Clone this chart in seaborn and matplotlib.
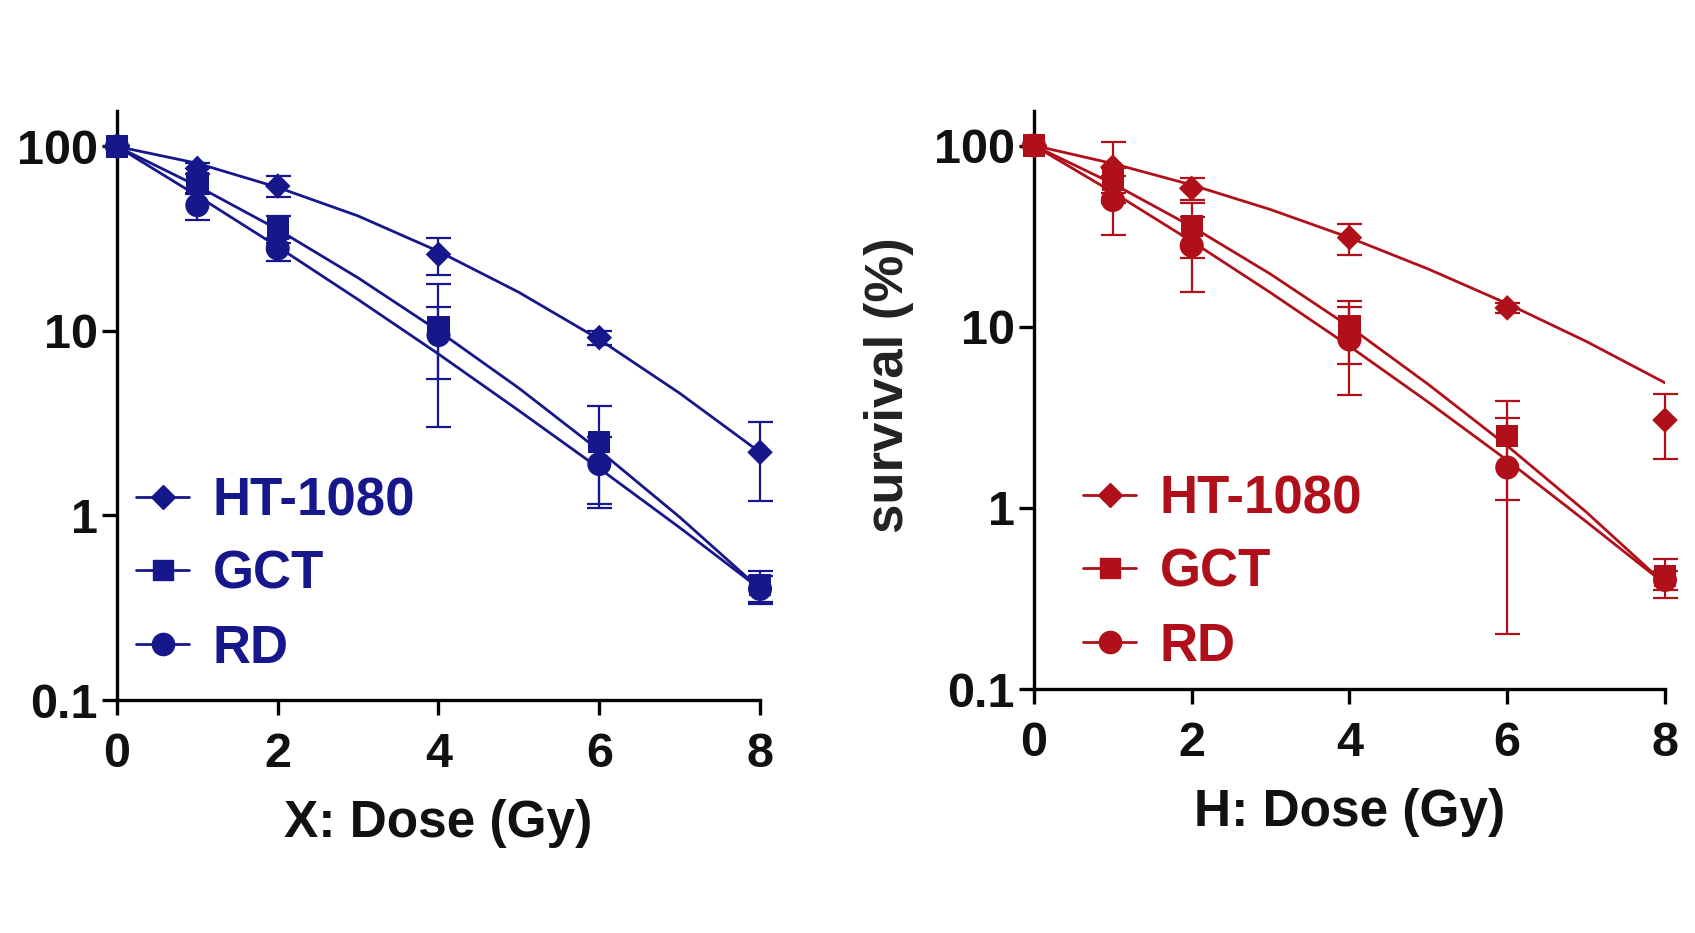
import numpy as np
import pandas as pd
import matplotlib
matplotlib.use("Agg")
import matplotlib.pyplot as plt
from matplotlib.lines import Line2D
import seaborn as sns

sns.set_theme(style="ticks")
plt.rcParams['font.family'] = ['Liberation Sans', 'DejaVu Sans']
plt.rcParams['font.weight'] = 'bold'

# ---------------- data ----------------
cell_lines = ["HT-1080", "GCT", "RD"]
doses = [0, 1, 2, 4, 6, 8]
curve_doses = [0, 1, 2, 3, 4, 5, 6, 7, 8]

# X-ray panel (left, blue)
x_ht_mean = [100, 76, 61, 26, 9.2, 2.2]
x_ht_sd = [0, 5, 8, 6, 0.8, 1.0]
x_gct_mean = [100, 63, 36, 10.5, 2.5, 0.42]
x_gct_sd = [0, 8, 6, 7.5, 1.4, 0.08]
x_rd_mean = [100, 48, 28, 9.5, 1.9, 0.40]
x_rd_sd = [0, 8, 4, 4, 0.75, 0.07]
# fitted curves
x_ht_fit = [100, 81, 60, 42, 27, 16.2, 9.0, 4.6, 2.2]
x_gct_fit = [100, 61, 35.5, 19.4, 10, 4.9, 2.25, 0.98, 0.40]
x_rd_fit = [100, 54, 28.6, 14.8, 7.5, 3.7, 1.8, 0.86, 0.40]

# H panel (right, red)
h_ht_mean = [100, 76, 58, 31, 12.7, 3.05]
h_ht_sd = [0, 28, 8, 6, 0.8, 1.2]
h_gct_mean = [100, 65, 36, 10, 2.5, 0.42]
h_gct_sd = [0, 10, 12, 3.8, 1.4, 0.1]
h_rd_mean = [100, 50, 28, 8.5, 1.67, 0.40]
h_rd_sd = [0, 18, 12.5, 4.3, 1.47, 0.05]
h_ht_fit = [100, 79.5, 60.6, 44.3, 31, 20.8, 13.4, 8.3, 4.9]
h_gct_fit = [100, 61.6, 35.7, 19.5, 10, 4.8, 2.2, 0.95, 0.38]
h_rd_fit = [100, 55.2, 29.6, 15.4, 7.8, 3.83, 1.83, 0.84, 0.38]

x_ticks = [0, 2, 4, 6, 8]
y_ticks = [0.1, 1, 10, 100]
y_ticklabels = ["0.1", "1", "10", "100"]

# ---------------- styling ----------------
BLUE = "#17178c"
RED = "#b0101a"
markers = {"HT-1080": "D", "GCT": "s", "RD": "o"}
msizes = {"HT-1080": 170, "GCT": 260, "RD": 300}


def build_points(means, sds):
    rows = []
    for name, m, s in zip(cell_lines, means, sds):
        for d, mv, sv in zip(doses, m, s):
            rows.append({"dose": d, "survival": mv, "sd": sv, "line": name})
    return pd.DataFrame(rows)


def build_fit(fits):
    rows = []
    for name, f in zip(cell_lines, fits):
        for d, v in zip(curve_doses, f):
            rows.append({"dose": d, "survival": v, "line": name})
    return pd.DataFrame(rows)


fig = plt.figure(figsize=(16.95, 9.33), dpi=100)
axL = fig.add_axes([0.069, 0.2497, 0.3794, 0.631])
axR = fig.add_axes([0.610, 0.2615, 0.3723, 0.6195])

panels = [
    (axL, BLUE, build_points([x_ht_mean, x_gct_mean, x_rd_mean], [x_ht_sd, x_gct_sd, x_rd_sd]),
     build_fit([x_ht_fit, x_gct_fit, x_rd_fit]), "X: Dose (Gy)", None, (0.03, 0.045)),
    (axR, RED, build_points([h_ht_mean, h_gct_mean, h_rd_mean], [h_ht_sd, h_gct_sd, h_rd_sd]),
     build_fit([h_ht_fit, h_gct_fit, h_rd_fit]), "H: Dose (Gy)", "survival (%)", (0.078, 0.03)),
]

for ax, col, pts, fit, xlabel, ylabel, legpos in panels:
    pal = {n: col for n in cell_lines}
    sns.lineplot(data=fit, x="dose", y="survival", hue="line", palette=pal,
                 linewidth=2.0, legend=False, ax=ax, zorder=2)
    for name in cell_lines:
        sub = pts[pts["line"] == name]
        lower = np.minimum(sub["sd"].values, sub["survival"].values * 0.999)
        eb = ax.errorbar(sub["dose"], sub["survival"], yerr=[lower, sub["sd"].values],
                         fmt="none", ecolor=col, elinewidth=1.6, capsize=9, capthick=1.6, zorder=3)
        for art in eb.lines[1] + eb.lines[2]:
            art.set_clip_on(False)
    sns.scatterplot(data=pts, x="dose", y="survival", hue="line", style="line",
                    markers=markers, palette=pal, size="line", sizes=msizes,
                    edgecolor=col, linewidth=0, legend=False, ax=ax, zorder=4,
                    clip_on=False)

    ax.set_yscale("log")
    ax.set_xlim(0, 8)
    ax.set_ylim(0.1, 155)
    ax.set_xticks(x_ticks)
    ax.set_xticklabels([str(t) for t in x_ticks])
    ax.set_yticks(y_ticks)
    ax.set_yticklabels(y_ticklabels)
    ax.yaxis.set_minor_locator(matplotlib.ticker.NullLocator())
    ax.tick_params(axis="both", which="major", direction="out", length=11, width=2.4,
                   color="black", labelsize=35, labelcolor="#111111")
    ax.tick_params(axis="x", pad=12)
    ax.tick_params(axis="y", pad=3)
    for lab in ax.get_xticklabels() + ax.get_yticklabels():
        lab.set_fontweight("bold")
    for side in ["top", "right"]:
        ax.spines[side].set_visible(False)
    for side in ["left", "bottom"]:
        ax.spines[side].set_linewidth(2.4)
        ax.spines[side].set_color("black")
    ax.set_xlabel(xlabel, fontsize=37, fontweight="bold", color="#111111", labelpad=16)
    if ylabel:
        ax.set_ylabel(ylabel, fontsize=38, fontweight="bold", color="#222222")
        ax.yaxis.set_label_coords(-0.19, 0.525)
    else:
        ax.set_ylabel("")

    handles = []
    for name in cell_lines:
        ms = {"HT-1080": 12, "GCT": 15, "RD": 16}[name]
        handles.append(Line2D([0], [0], color=col, lw=2.0, marker=markers[name],
                              markersize=ms, markerfacecolor=col, markeredgecolor=col))
    leg = ax.legend(handles=handles, labels=cell_lines, loc="lower left",
                    bbox_to_anchor=legpos, frameon=False, fontsize=38,
                    handlelength=1.0, handletextpad=0.45, labelspacing=0.45,
                    borderpad=0, borderaxespad=0)
    for t in leg.get_texts():
        t.set_color(col)
        t.set_fontweight("bold")

fig.savefig("out.png", dpi=100, facecolor="white")
